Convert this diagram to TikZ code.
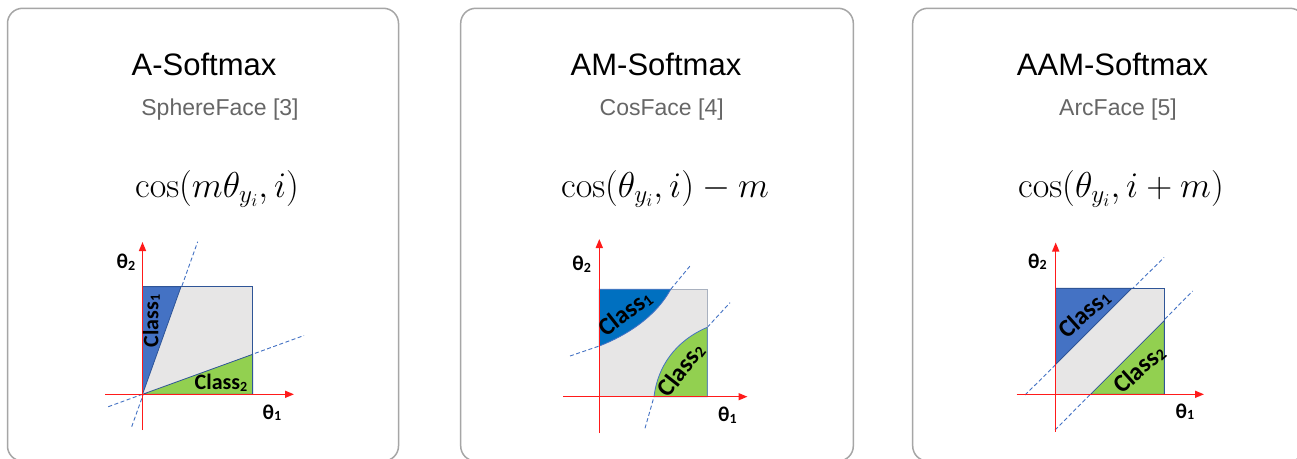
\RequirePackage{fix-cm}
\documentclass[tikz,border=0pt]{standalone}
\usepackage[no-math]{fontspec}
\setmainfont{Liberation Sans}
\newfontfamily\calib{Carlito}
\usetikzlibrary{arrows.meta}
\definecolor{panelgray}{HTML}{A6A6A6}
\definecolor{subgray}{HTML}{666666}
\definecolor{cblue}{HTML}{4472C4}
\definecolor{cblueB}{HTML}{0070C0}
\definecolor{cgreen}{HTML}{92D050}
\definecolor{sqfill}{HTML}{E7E6E6}
\definecolor{sqedge}{HTML}{2F5597}
\definecolor{sqedgeB}{HTML}{A9B1BF}
\definecolor{axred}{HTML}{FF1A1A}
\newcommand{\mysub}[1]{\raisebox{-1.5pt}{\fontsize{14}{14}\selectfont #1}}
\newcommand{\mysubB}[1]{\raisebox{-1.5pt}{\fontsize{16}{16}\selectfont #1}}
\tikzset{
  panel/.style={draw=panelgray, line width=1.5pt, rounded corners=15pt, fill=white},
  ttl/.style={anchor=base, inner sep=0pt, font=\fontsize{31}{31}\selectfont, text=black},
  subttl/.style={anchor=base, inner sep=0pt, font=\fontsize{23}{23}\selectfont, text=subgray},
  formula/.style={anchor=base, inner sep=0pt, font=\fontsize{36}{36}\selectfont},
  dashline/.style={draw=cblue, line width=0.9pt, dash pattern=on 4pt off 2.5pt},
  axis/.style={draw=axred, line width=1.5pt, -{Triangle[length=9pt,width=7pt]}},
  thlabel/.style={inner sep=0pt, font=\calib\bfseries\fontsize{21}{21}\selectfont},
  clsA/.style={inner sep=0pt, font=\calib\bfseries\fontsize{22}{22}\selectfont},
  clsB/.style={inner sep=0pt, font=\calib\bfseries\fontsize{25}{25}\selectfont},
}
\begin{document}
\begin{tikzpicture}[x=1pt,y=-1pt]
\useasboundingbox (0,0) rectangle (1297,458);
\clip (0,0) rectangle (1297,458);
\fill[white] (0,0) rectangle (1297,458);

% panels
\draw[panel] (7.5,8.3) rectangle (398.5,461);
\draw[panel] (460.7,8.3) rectangle (853.3,461);
\draw[panel] (912.7,8.3) rectangle (1305,461);

% texts panel 1
\node[ttl] (t1) at (204,75) {A-Softmax};
\node[subttl] (s1) at (220,115) {SphereFace [3]};
\node[formula] (f1) at (217,197) {$\cos(m\theta_{y_i}, i)$};
% texts panel 2
\node[ttl] (t2) at (656,75) {AM-Softmax};
\node[subttl] (s2) at (661.7,115) {CosFace [4]};
\node[formula] (f2) at (665,197) {$\cos(\theta_{y_i}, i) - m$};
% texts panel 3
\node[ttl] (t3) at (1112.5,75) {AAM-Softmax};
\node[subttl] (s3) at (1118,115) {ArcFace [5]};
\node[formula] (f3) at (1121,197) {$\cos(\theta_{y_i}, i + m)$};

% ---------- plot 1 ----------
\coordinate (o1) at (142.5,394.3);
\coordinate (tl1) at (142.5,286.7);
\coordinate (tr1) at (252.7,286.7);
\coordinate (br1) at (252.7,394.3);
\coordinate (c1a) at (181,286.7);
\coordinate (c1b) at (252.7,354.3);
\coordinate (d1a) at (131.7,426.7);
\coordinate (d1b) at (197.7,241.7);
\coordinate (d1c) at (108.3,406.7);
\coordinate (d1d) at (304,335.5);
\draw[dashline] (d1a) -- (d1b);
\draw[dashline] (d1c) -- (d1d);
\fill[sqfill] (o1) rectangle (tr1);
\filldraw[fill=cblue, draw=sqedge, line width=0.8pt] (o1) -- (tl1) -- (c1a) -- cycle;
\filldraw[fill=cgreen, draw=sqedge, line width=0.8pt] (o1) -- (br1) -- (c1b) -- cycle;
\draw[sqedge, line width=0.9pt] (o1) rectangle (tr1);
\coordinate (ya1) at (142.5,430);
\coordinate (yb1) at (142.5,242);
\coordinate (xa1) at (105,394.3);
\coordinate (xb1) at (294,394.3);
\draw[axis] (ya1) -- (yb1);
\draw[axis] (xa1) -- (xb1);
\node[thlabel] (th12) at (126,262) {θ\mysub{2}};
\node[thlabel] (th11) at (272,412.5) {θ\mysub{1}};
\node[clsA, rotate=90] (cl11) at (151.5,321) {Class\mysub{1}};
\node[clsA] (cl12) at (221,383) {Class\mysub{2}};

% ---------- plot 2 ----------
\coordinate (o2) at (599.3,396.7);
\coordinate (tl2) at (599.3,289.3);
\coordinate (tr2) at (707.3,289.3);
\coordinate (br2) at (707.3,396.7);
\coordinate (p2a) at (599.3,346);
\coordinate (p2b) at (670.7,289.3);
\coordinate (q2a) at (654,396.7);
\coordinate (q2b) at (707.3,327.3);
\coordinate (d2a) at (570,356);
\coordinate (d2b) at (690,266);
\coordinate (d2c) at (645,428.3);
\coordinate (d2d) at (730,302.7);
\draw[dashline] (d2a) -- (p2a);
\draw[dashline] (p2b) -- (d2b);
\draw[dashline] (d2c) -- (q2a);
\draw[dashline] (q2b) -- (d2d);
\fill[sqfill] (o2) rectangle (tr2);
\draw[sqedgeB, line width=0.9pt] (o2) rectangle (tr2);
\filldraw[fill=cblueB, draw=cblue, line width=0.8pt] (tl2) -- (p2a) .. controls (625,336) and (655,318) .. (p2b) -- cycle;
\filldraw[fill=cgreen, draw=cblue, line width=0.8pt] (br2) -- (q2a) .. controls (657.5,367) and (675,341) .. (q2b) -- cycle;
\coordinate (ya2) at (599.3,433);
\coordinate (yb2) at (599.3,239);
\coordinate (xa2) at (563.3,396.7);
\coordinate (xb2) at (747.5,396.7);
\draw[axis] (ya2) -- (yb2);
\draw[axis] (xa2) -- (xb2);
\node[thlabel] (th22) at (581.7,264) {θ\mysub{2}};
\node[thlabel] (th21) at (727.5,415) {θ\mysub{1}};
\node[clsB, rotate=38] (cl21) at (625,313) {Class\mysubB{1}};
\node[clsB, rotate=52] (cl22) at (681,370) {Class\mysubB{2}};

% ---------- plot 3 ----------
\coordinate (o3) at (1055.7,394.3);
\coordinate (tl3) at (1055.7,288.3);
\coordinate (tr3) at (1164.3,288.3);
\coordinate (br3) at (1164.3,394.3);
\coordinate (c3a) at (1131.7,288.3);
\coordinate (c3b) at (1055.7,364.3);
\coordinate (c3c) at (1090.5,394.3);
\coordinate (c3d) at (1164.3,320.5);
\coordinate (d3a) at (1025,395);
\coordinate (d3b) at (1164,257.5);
\coordinate (d3c) at (1055,430);
\coordinate (d3d) at (1192.7,291);
\draw[dashline] (d3a) -- (d3b);
\draw[dashline] (d3c) -- (d3d);
\fill[sqfill] (o3) rectangle (tr3);
\filldraw[fill=cblue, draw=sqedge, line width=0.8pt] (tl3) -- (c3a) -- (c3b) -- cycle;
\filldraw[fill=cgreen, draw=sqedge, line width=0.8pt] (c3c) -- (br3) -- (c3d) -- cycle;
\draw[sqedge, line width=0.9pt] (o3) rectangle (tr3);
\coordinate (ya3) at (1055.7,431.7);
\coordinate (yb3) at (1055.7,242.5);
\coordinate (xa3) at (1016.7,394.3);
\coordinate (xb3) at (1204,394.3);
\draw[axis] (ya3) -- (yb3);
\draw[axis] (xa3) -- (xb3);
\node[thlabel] (th32) at (1037.5,261.7) {θ\mysub{2}};
\node[thlabel] (th31) at (1185,411.7) {θ\mysub{1}};
\node[clsB, rotate=42] (cl31) at (1084,314) {Class\mysubB{1}};
\node[clsB, rotate=42] (cl32) at (1139,369) {Class\mysubB{2}};
\end{tikzpicture}
\end{document}
